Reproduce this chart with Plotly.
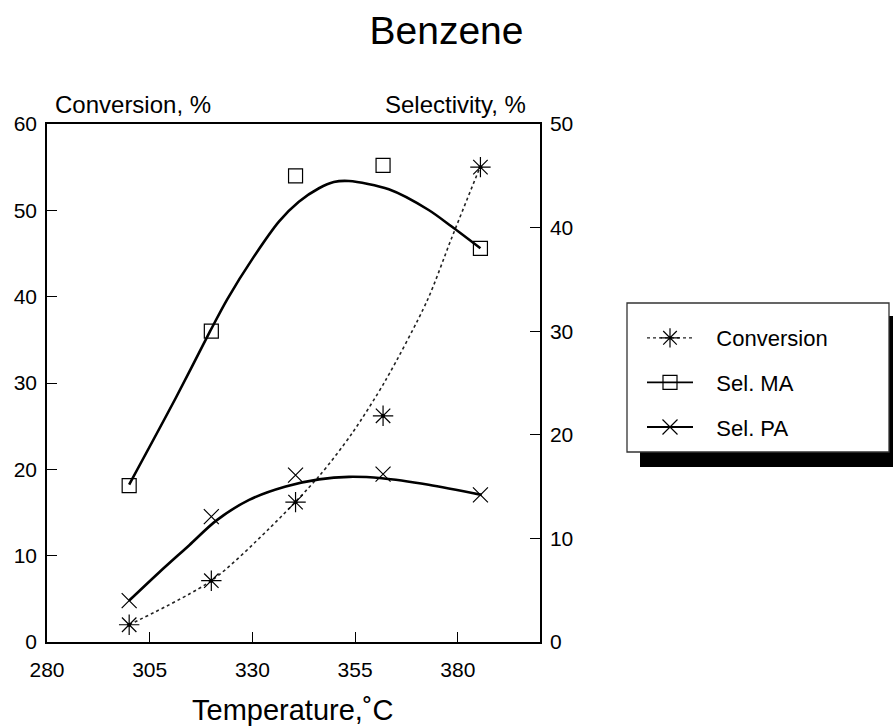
import plotly.graph_objects as go

# ---------------- data ----------------
temps = [300, 320, 340.5, 361.8, 385.5]
conversion = [2.0, 7.1, 16.2, 26.2, 55.0]          # left axis (%)
sel_ma = [15.1, 30.0, 45.0, 46.0, 38.0]            # right axis (%)
sel_pa = [4.0, 12.1, 16.1, 16.2, 14.2]             # right axis (%)

# fitted curves
conv_fit_x = [300, 320, 334, 346.2, 354.3, 362.4, 372.5, 378.5, 385.4]
conv_fit_y = [2.0, 7.1, 13.1, 19.2, 24.2, 30.3, 39.5, 46.8, 55.0]
ma_fit_x = [300, 311.4, 319.7, 323.9, 330.2, 336.5, 341.3, 346.2, 349.8, 353.5, 363.2, 372.9, 378.5, 385.5]
ma_fit_y = [15.2, 23.6, 30.0, 33.1, 37.1, 40.6, 42.5, 43.8, 44.4, 44.5, 43.7, 41.7, 40.1, 38.0]
pa_fit_x = [300, 307.4, 314.7, 321.1, 329.2, 338.1, 346.2, 353.5, 361.5, 372.9, 385.8]
pa_fit_y = [4.0, 6.76, 9.37, 11.69, 13.72, 15.01, 15.70, 15.94, 15.80, 15.17, 14.2]

x_ticks = [280, 305, 330, 355, 380]
names = ["Conversion", "Sel. MA", "Sel. PA"]

# ---------------- layout geometry ----------------
W, H = 893, 727
PX_L, PX_R, PY_T, PY_B = 47, 540, 124, 642
FONT = "Liberation Sans, Arial, Helvetica, sans-serif"
PAD = "\u00a0\u00a0\u00a0"


def pxx(px):
    return (px - PX_L) / (PX_R - PX_L)


def pyy(py):
    return (PY_B - py) / (PY_B - PY_T)


fig = go.Figure()

# fitted curves
fig.add_trace(go.Scatter(x=conv_fit_x, y=conv_fit_y, mode="lines", yaxis="y",
                         line=dict(color="#222", width=1.6, dash="dot", shape="spline", smoothing=0.8),
                         showlegend=False, hoverinfo="skip"))
fig.add_trace(go.Scatter(x=ma_fit_x, y=ma_fit_y, mode="lines", yaxis="y2",
                         line=dict(color="black", width=2.6, shape="spline", smoothing=0.8),
                         showlegend=False, hoverinfo="skip"))
fig.add_trace(go.Scatter(x=pa_fit_x, y=pa_fit_y, mode="lines", yaxis="y2",
                         line=dict(color="black", width=2.6, shape="spline", smoothing=0.8),
                         showlegend=False, hoverinfo="skip"))

# data markers
fig.add_trace(go.Scatter(x=temps, y=conversion, mode="markers", yaxis="y",
                         marker=dict(symbol="asterisk-open", size=17, color="black",
                                     line=dict(color="black", width=1.2)),
                         showlegend=False))
fig.add_trace(go.Scatter(x=temps, y=conversion, mode="markers", yaxis="y",
                         marker=dict(symbol="circle", size=4, color="black"),
                         showlegend=False, hoverinfo="skip"))
fig.add_trace(go.Scatter(x=temps, y=sel_ma, mode="markers", yaxis="y2",
                         marker=dict(symbol="square-open", size=14, color="black",
                                     line=dict(color="black", width=1.2)),
                         showlegend=False))
fig.add_trace(go.Scatter(x=temps, y=sel_pa, mode="markers", yaxis="y2",
                         marker=dict(symbol="x-thin-open", size=15, color="black",
                                     line=dict(color="black", width=1.2)),
                         showlegend=False))

# legend entries
fig.add_trace(go.Scatter(x=[None], y=[None], mode="lines+markers", name=PAD + names[0], legendgroup="a",
                         line=dict(color="#222", width=1.3, dash="dot"),
                         marker=dict(symbol="asterisk-open", size=16, color="black",
                                     line=dict(color="black", width=1.2))))
fig.add_trace(go.Scatter(x=[None], y=[None], mode="lines+markers", name=PAD + names[1], legendgroup="b",
                         line=dict(color="black", width=1.8),
                         marker=dict(symbol="square-open", size=14, color="black",
                                     line=dict(color="black", width=1.2))))
fig.add_trace(go.Scatter(x=[None], y=[None], mode="lines+markers", name=PAD + names[2], legendgroup="c",
                         line=dict(color="black", width=1.8),
                         marker=dict(symbol="x-thin-open", size=15, color="black",
                                     line=dict(color="black", width=1.2))))

axis_common = dict(showgrid=False, zeroline=False, showline=True, linecolor="black", linewidth=1.5,
                   ticks="inside", ticklen=10, tickwidth=1.3, tickcolor="black",
                   tickfont=dict(family=FONT, size=21, color="black"))

fig.update_layout(
    width=W, height=H, autosize=False,
    margin=dict(l=PX_L, r=W - PX_R, t=PY_T, b=H - PY_B, pad=0),
    paper_bgcolor="white", plot_bgcolor="white",
    font=dict(family=FONT, color="black"),
    title=dict(text="Benzene", x=0.5, xref="container", xanchor="center",
               y=1 - 30 / H, yref="container", yanchor="middle",
               font=dict(family=FONT, size=39, color="black")),
    xaxis=dict(range=[280, 400], tickvals=x_ticks, mirror=True, ticklabelstandoff=8, **axis_common),
    yaxis=dict(range=[0, 60], dtick=10, ticklabelstandoff=4, **axis_common),
    yaxis2=dict(range=[0, 50], dtick=10, overlaying="y", side="right", ticklabelstandoff=4, **axis_common),
    showlegend=True,
    legend=dict(x=pxx(642), xanchor="left", y=pyy(317), yanchor="top",
                bgcolor="rgba(0,0,0,0)", borderwidth=0, itemwidth=46, tracegroupgap=13,
                font=dict(family=FONT, size=22, color="black")),
    shapes=[
        dict(type="rect", xref="paper", yref="paper", x0=pxx(640), x1=pxx(905), y0=pyy(467), y1=pyy(316),
             fillcolor="black", line=dict(width=0), layer="above"),
        dict(type="rect", xref="paper", yref="paper", x0=pxx(627), x1=pxx(889), y0=pyy(452), y1=pyy(303),
             fillcolor="white", line=dict(color="#333", width=1.3), layer="above"),
    ],
    annotations=[
        dict(text="Conversion, %", xref="paper", yref="paper", x=pxx(213), y=pyy(104),
             xanchor="right", yanchor="middle", showarrow=False,
             font=dict(family=FONT, size=24, color="black")),
        dict(text="Selectivity, %", xref="paper", yref="paper", x=pxx(383), y=pyy(104),
             xanchor="left", yanchor="middle", showarrow=False,
             font=dict(family=FONT, size=24, color="black")),
        dict(text="Temperature,˚C", xref="paper", yref="paper", x=pxx(190), y=pyy(710),
             xanchor="left", yanchor="middle", showarrow=False,
             font=dict(family=FONT, size=29, color="black")),
    ],
)

fig.write_html("out.html")
